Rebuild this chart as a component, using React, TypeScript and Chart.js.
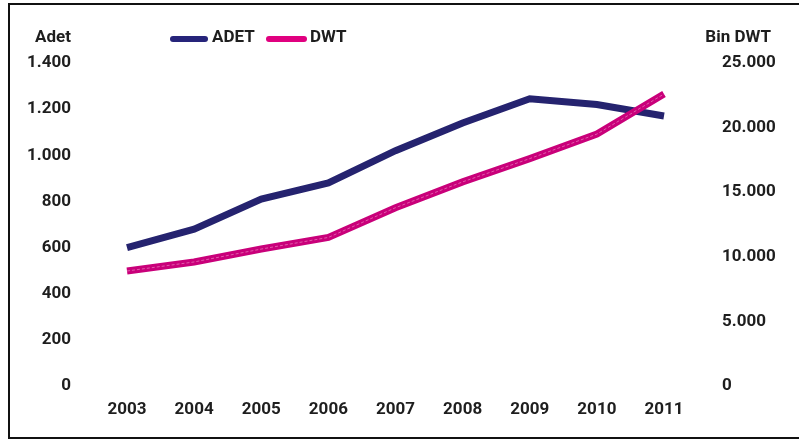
import React, { useEffect, useRef } from "react";
import { Chart, registerables } from "chart.js";

Chart.register(...registerables);

const years = ["2003", "2004", "2005", "2006", "2007", "2008", "2009", "2010", "2011"];
const adetValues = [600, 680, 810, 880, 1020, 1140, 1245, 1220, 1170];
const dwtValues = [8900, 9600, 10600, 11500, 13800, 15800, 17600, 19500, 22600];
const seriesNames = ["ADET", "DWT"];
const seriesColors = ["#25236f", "#c9007a"];
const legendColors = ["#26247a", "#e0007f"];
const leftTitle = "Adet";
const rightTitle = "Bin DWT";
const leftMax = 1400;
const leftStep = 200;
const rightMax = 25000;
const rightStep = 5000;

const FONT = "Roboto, 'DejaVu Sans', sans-serif";
const TEXT = "#1e1e1e";
const FS = 17;

function fmt(v: number): string {
  return String(Math.round(v)).replace(/\B(?=(\d{3})+(?!\d))/g, ".");
}

const overlayPlugin = {
  id: "overlayText",
  afterDraw(chart: any) {
    const ctx = chart.ctx;
    ctx.save();
    ctx.font = `bold ${FS}px ${FONT}`;
    ctx.fillStyle = TEXT;
    ctx.textBaseline = "middle";
    ctx.textAlign = "right";
    ctx.fillText(leftTitle, 71, 38);
    ctx.fillText(rightTitle, 771, 38);
    const items = [
      { x0: 173, x1: 205, tx: 212 },
      { x0: 269, x1: 304, tx: 310 },
    ];
    items.forEach((it, i) => {
      ctx.beginPath();
      ctx.strokeStyle = legendColors[i];
      ctx.lineWidth = 6;
      ctx.lineCap = "round";
      ctx.moveTo(it.x0, 39);
      ctx.lineTo(it.x1, 39);
      ctx.stroke();
      ctx.textAlign = "left";
      ctx.fillStyle = TEXT;
      ctx.fillText(chart.data.datasets[i].label, it.tx, 38);
    });
    ctx.restore();
  },
};

function fixVertical(width: number) {
  return (scale: any) => {
    scale.width = width;
    scale.paddingTop = 0;
    scale.paddingBottom = 0;
  };
}

export default function App() {
  const ref = useRef<HTMLCanvasElement>(null);

  useEffect(() => {
    document.body.style.margin = "0";
    document.body.style.overflow = "hidden";
    const canvas = ref.current!;
    const chart = new Chart(canvas, {
      type: "line",
      data: {
        labels: years,
        datasets: [
          {
            label: seriesNames[0],
            data: adetValues,
            yAxisID: "y",
            borderColor: seriesColors[0],
            borderWidth: 7,
            pointRadius: 0,
            tension: 0,
            borderCapStyle: "butt",
            order: 2,
          },
          {
            label: seriesNames[1],
            data: dwtValues,
            yAxisID: "y1",
            borderColor: seriesColors[1],
            borderWidth: 7,
            pointRadius: 0,
            tension: 0,
            borderCapStyle: "butt",
            order: 1,
          },
          {
            label: seriesNames[0] + " highlight",
            data: adetValues,
            yAxisID: "y",
            borderColor: "rgba(200,200,235,0.45)",
            borderWidth: 1,
            borderDash: [3, 2],
            pointRadius: 0,
            tension: 0,
            order: 2,
          },
          {
            label: seriesNames[1] + " highlight",
            data: dwtValues,
            yAxisID: "y1",
            borderColor: "rgba(255,200,230,0.45)",
            borderWidth: 1,
            borderDash: [3, 2],
            pointRadius: 0,
            tension: 0,
            order: 0,
          },
        ],
      },
      options: {
        responsive: false,
        animation: false,
        layout: { padding: { top: 63, left: 0, right: 0, bottom: 0 } },
        plugins: {
          legend: { display: false },
          tooltip: { enabled: false },
        },
        scales: {
          x: {
            offset: false,
            grid: { display: false, drawTicks: false },
            border: { display: false },
            ticks: {
              color: TEXT,
              font: { family: FONT, size: FS, weight: "bold" },
              padding: 14,
              maxRotation: 0,
              autoSkip: false,
            },
            afterFit(scale: any) {
              scale.height = 53;
            },
          },
          y: {
            position: "left",
            min: 0,
            max: leftMax,
            grid: { display: false, drawTicks: false },
            border: { display: false },
            ticks: {
              stepSize: leftStep,
              color: TEXT,
              font: { family: FONT, size: FS, weight: "bold" },
              padding: 56,
              callback: (v: any) => fmt(Number(v)),
            },
            afterFit: fixVertical(127),
          },
          y1: {
            position: "right",
            min: 0,
            max: rightMax,
            grid: { display: false, drawTicks: false },
            border: { display: false },
            ticks: {
              stepSize: rightStep,
              color: TEXT,
              font: { family: FONT, size: FS, weight: "bold" },
              padding: 58,
              callback: (v: any) => fmt(Number(v)),
            },
            afterFit: fixVertical(135),
          },
        },
      },
      plugins: [overlayPlugin],
    });
    return () => chart.destroy();
  }, []);

  return (
    <div style={{ position: "relative", width: 799, height: 439, background: "#fff" }}>
      <canvas ref={ref} width={799} height={439} style={{ display: "block", width: 799, height: 439 }} />
      <div
        style={{
          position: "absolute",
          left: 8,
          top: 3,
          width: 800,
          height: 432,
          border: "2px solid #111",
          boxSizing: "content-box",
          pointerEvents: "none",
        }}
      />
    </div>
  );
}
